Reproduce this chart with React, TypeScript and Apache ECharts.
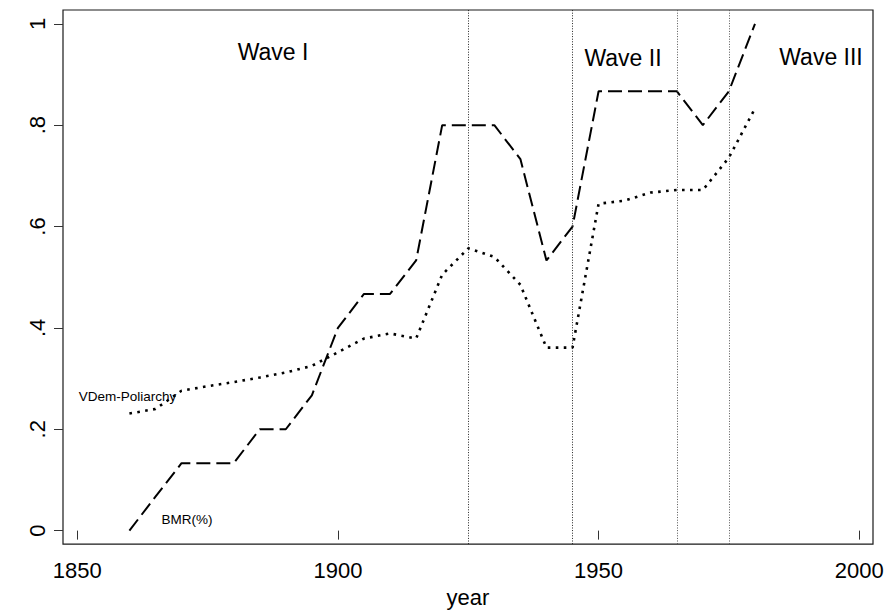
import React, { useEffect, useRef } from "react";
import * as echarts from "echarts";

const years = [1860, 1865, 1870, 1875, 1880, 1885, 1890, 1895, 1900, 1905, 1910, 1915, 1920, 1925, 1930, 1935, 1940, 1945, 1950, 1955, 1960, 1965, 1970, 1975, 1980];
const bmr = [0, 0.067, 0.133, 0.133, 0.133, 0.2, 0.2, 0.267, 0.4, 0.467, 0.467, 0.533, 0.8, 0.8, 0.8, 0.733, 0.533, 0.6, 0.867, 0.867, 0.867, 0.867, 0.8, 0.867, 1.0];
const vdem = [0.231, 0.24, 0.276, 0.285, 0.293, 0.302, 0.312, 0.325, 0.352, 0.379, 0.389, 0.379, 0.505, 0.557, 0.54, 0.485, 0.361, 0.361, 0.645, 0.651, 0.667, 0.672, 0.672, 0.736, 0.833];
const waveYears = [1925, 1945, 1965, 1975];
const xTicks = [1850, 1900, 1950, 2000];
const yTicks = [0, 0.2, 0.4, 0.6, 0.8, 1];
const waveLabels = ["Wave I", "Wave II", "Wave III"];

const FONT = "'Liberation Sans', Arial, Helvetica, sans-serif";

export default function App() {
  const ref = useRef<HTMLDivElement>(null);
  useEffect(() => {
    if (!ref.current) return;
    const chart = echarts.init(ref.current, undefined, { renderer: "svg" });
    const fmtY = (v: number) => {
      if (Math.abs(v) < 1e-9) return "0";
      if (Math.abs(v - 1) < 1e-9) return "1";
      return "." + Math.round(v * 10);
    };
    chart.setOption({
      animation: false,
      backgroundColor: "#ffffff",
      textStyle: { fontFamily: FONT },
      grid: {
        left: 63,
        top: 10,
        right: 14,
        bottom: 61,
        show: true,
        borderColor: "#1a1a1a",
        borderWidth: 1.2,
        backgroundColor: "transparent",
      },
      xAxis: {
        type: "value",
        min: 1847.26,
        max: 2002.64,
        name: "year",
        nameLocation: "middle",
        nameGap: 34,
        nameTextStyle: { fontSize: 22, color: "#000", fontFamily: FONT },
        axisLine: { show: false },
        splitLine: { show: false },
        axisTick: {
          show: true,
          length: 9,
          customValues: xTicks,
          lineStyle: { color: "#333", width: 1 },
        },
        axisLabel: {
          customValues: xTicks,
          fontSize: 22,
          color: "#000",
          margin: 15,
          fontFamily: FONT,
          formatter: (v: number) => String(v),
        },
      },
      yAxis: {
        type: "value",
        min: -0.0266,
        max: 1.0272,
        axisLine: { show: false },
        splitLine: { show: false },
        axisTick: {
          show: true,
          length: 9,
          customValues: yTicks,
          lineStyle: { color: "#333", width: 1 },
        },
        axisLabel: {
          customValues: yTicks,
          rotate: 90,
          fontSize: 22,
          color: "#000",
          margin: 15,
          fontFamily: FONT,
          formatter: fmtY,
        },
      },
      series: [
        {
          name: "BMR(%)",
          type: "line",
          data: years.map((y, i) => [y, bmr[i]]),
          symbol: "none",
          lineStyle: { color: "#000", width: 2, type: [14, 6] },
          z: 3,
          markLine: {
            silent: true,
            symbol: "none",
            label: { show: false },
            data: waveYears.map((y, i) => ({
              xAxis: y,
              lineStyle: {
                color: i < 2 ? "#222" : "#555",
                width: 1,
                type: [1, 1.6],
              },
            })),
          },
        },
        {
          name: "VDem-Poliarchy",
          type: "line",
          data: years.map((y, i) => [y, vdem[i]]),
          symbol: "none",
          lineStyle: { color: "#000", width: 2.6, type: [2.6, 5.4] },
          z: 3,
        },
      ],
      graphic: [
        { type: "text", x: 273, y: 52, style: { text: waveLabels[0], fontSize: 23, fontFamily: FONT, fill: "#000", align: "center", verticalAlign: "middle" } },
        { type: "text", x: 623, y: 58, style: { text: waveLabels[1], fontSize: 23, fontFamily: FONT, fill: "#000", align: "center", verticalAlign: "middle" } },
        { type: "text", x: 821, y: 57, style: { text: waveLabels[2], fontSize: 23, fontFamily: FONT, fill: "#000", align: "center", verticalAlign: "middle" } },
        { type: "text", x: 127.5, y: 396, style: { text: "VDem-Poliarchy", fontSize: 13.5, fontFamily: FONT, fill: "#000", align: "center", verticalAlign: "middle" } },
        { type: "text", x: 187, y: 519, style: { text: "BMR(%)", fontSize: 13.5, fontFamily: FONT, fill: "#000", align: "center", verticalAlign: "middle" } },
      ],
    });
    return () => chart.dispose();
  }, []);
  return (
    <div
      ref={ref}
      style={{ position: "absolute", left: 0, top: 0, width: 887, height: 613 }}
    />
  );
}
